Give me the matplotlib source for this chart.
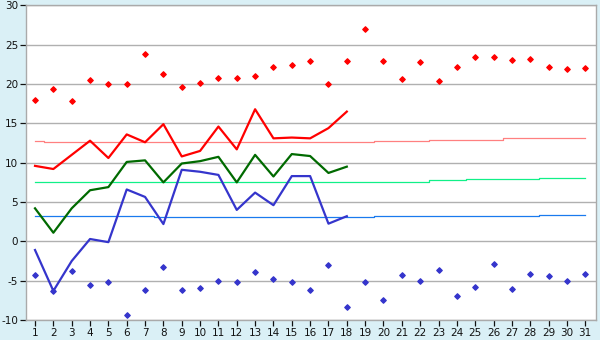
import matplotlib
matplotlib.use("Agg")
import matplotlib.pyplot as plt
import numpy as np

days = list(range(1, 32))
mean_days = list(range(1, 19))

t_max = [18.0, 19.4, 17.8, 20.5, 20.0, 20.0, 23.8, 21.3, 19.6, 20.2, 20.8, 20.8, 21.0, 22.2,
         22.4, 22.9, 20.0, 22.9, 27.0, 22.9, 20.7, 22.8, 20.4, 22.2, 23.5, 23.5, 23.1, 23.2,
         22.2, 21.9, 22.0]
t_min = [-4.3, -6.3, -3.8, -5.5, -5.2, -9.3, -6.2, -3.3, -6.2, -5.9, -5.0, -5.2, -3.9, -4.8,
         -5.2, -6.2, -3.0, -8.3, -5.2, -7.5, -4.3, -5.0, -3.6, -6.9, -5.8, -2.9, -6.0, -4.2,
         -4.4, -5.0, -4.2]

mean_max = [9.6, 9.2, 11.0, 12.8, 10.6, 13.6, 12.6, 14.9, 10.8, 11.5, 14.6, 11.7, 16.8, 13.1,
            13.2, 13.1, 14.4, 16.5]
mean_avg = [4.2, 1.1, 4.2, 6.5, 6.9, 10.1, 10.3, 7.5, 9.9, 10.2, 10.75, 7.5, 11.0, 8.25,
            11.1, 10.85, 8.7, 9.5]
mean_min = [-1.1, -6.3, -2.5, 0.3, -0.1, 6.6, 5.65, 2.2, 9.1, 8.85, 8.45, 4.0, 6.2, 4.6,
            8.3, 8.3, 2.25, 3.2]

norm_max = [12.7] + [12.6] * 18 + [12.7] * 3 + [12.85] * 2 + [12.95] * 2 + [13.1] * 3 + [13.2] * 2
norm_avg = [7.6] + [7.5] * 18 + [7.6] * 3 + [7.75] * 2 + [7.9] * 4 + [8.0] + [8.1] * 2
norm_min = [3.2] * 7 + [3.1] * 12 + [3.2] * 9 + [3.3] * 3

y_ticks = [-10, -5, 0, 5, 10, 15, 20, 25, 30]

bg = '#daf0f6'
fig = plt.figure(figsize=(6.0, 3.4), dpi=100, facecolor=bg)
ax = fig.add_axes([0.044, 0.0588, 0.9485, 0.9252])
ax.set_facecolor('white')

ax.plot(days, norm_max, drawstyle='steps-mid', color='#ff8080', lw=0.9, zorder=2)
ax.plot(days, norm_avg, drawstyle='steps-mid', color='#11f088', lw=0.9, zorder=2)
ax.plot(days, norm_min, drawstyle='steps-mid', color='#1a7aee', lw=0.9, zorder=2)

ax.plot(mean_days, mean_max, color='#ff0000', lw=1.6, zorder=3)
ax.plot(mean_days, mean_avg, color='#006a00', lw=1.6, zorder=3)
ax.plot(mean_days, mean_min, color='#3535cc', lw=1.6, zorder=3)

ax.plot(days, t_max, ls='none', marker='D', ms=2.9, color='#ff0000', mec='#ff0000', mew=0.8, zorder=4)
ax.plot(days, t_min, ls='none', marker='D', ms=2.9, color='#3535cc', mec='#3535cc', mew=0.8, zorder=4)

ax.set_xlim(0.53, 31.56)
ax.set_ylim(-10, 30)
ax.set_xticks(days)
ax.set_xticklabels([str(d) for d in days])
ax.set_yticks(y_ticks)
ax.set_yticklabels([str(v) for v in y_ticks])
ax.grid(axis='y', color='#b0b0b0', lw=1.0)
ax.set_axisbelow(True)
for s in ax.spines.values():
    s.set_color('#aaaaaa')
    s.set_linewidth(1.0)
ax.tick_params(axis='both', labelsize=7.5, colors='#111111', length=4, width=0.9, pad=2)

fig.savefig('out.png', dpi=100, facecolor=bg)
